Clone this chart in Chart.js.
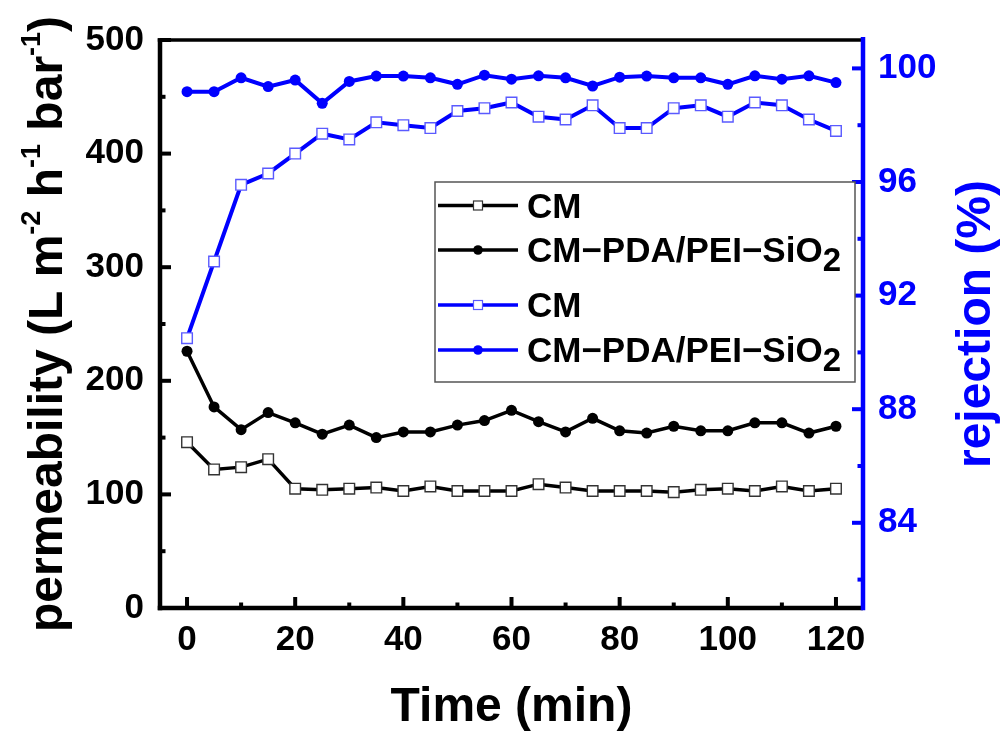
<!DOCTYPE html>
<html><head><meta charset="utf-8">
<script src="https://cdn.jsdelivr.net/npm/chart.js@4.4.1/dist/chart.umd.min.js"></script>
<style>html,body{margin:0;padding:0;background:#fff;}</style>
</head><body>
<canvas id="c" width="1008" height="732" style="width:1008px;height:732px;display:block"></canvas>
<script>
const timeMin = [0,5,10,15,20,25,30,35,40,45,50,55,60,65,70,75,80,85,90,95,100,105,110,115,120];
const permCM  = [146,122,124,131,105,104,105,106,103,107,103,103,103,109,106,103,103,103,102,104,105,103,107,103,105];
const permMod = [226,177,157,172,163,153,161,150,155,155,161,165,174,164,155,167,156,154,160,156,156,163,163,154,160];
const rejCM   = [90.5,93.2,95.9,96.3,97.0,97.7,97.5,98.1,98.0,97.9,98.5,98.6,98.8,98.3,98.2,98.7,97.9,97.9,98.6,98.7,98.3,98.8,98.7,98.2,97.8];
const rejMod  = [99.18,99.18,99.67,99.36,99.59,98.77,99.54,99.73,99.73,99.67,99.44,99.76,99.62,99.74,99.67,99.38,99.69,99.73,99.67,99.67,99.44,99.74,99.62,99.74,99.50];
const xTickValues = [0,20,40,60,80,100,120];
const xMinorTicks = [10,30,50,70,90,110];
const leftTickValues = [0,100,200,300,400,500];
const leftMinorTicks = [50,150,250,350,450];
const rightTickValues = [84,88,92,96,100];
const rightMinorTicks = [82,86,90,94,98];
const seriesLabels = ['CM','CM\u2212PDA/PEI\u2212SiO\u2082','CM','CM\u2212PDA/PEI\u2212SiO\u2082'];
const xTitle = 'Time (min)';
const leftTitleParts = [['permeability (L m',0],['-2',1],[' h',0],['-1',1],[' bar',0],['-1',1],[')',0]];
const rightTitle = 'rejection (%)';

const BLUE = '#0000ff';
const FONT = '"Liberation Sans", Arial, sans-serif';
const pts = arr => timeMin.map((t,i)=>({x:t,y:arr[i]}));

const decor = {
  id:'decor',
  afterDraw(chart){
    const ctx = chart.ctx;
    const {left,right,top,bottom} = chart.chartArea;
    const ax = chart.scales.x, yl = chart.scales.y, yr = chart.scales.y1;
    ctx.save();
    ctx.setLineDash([]);
    ctx.globalAlpha = 1;
    // frame (filled rectangles)
    const W = 4.5;
    ctx.fillStyle = '#000';
    ctx.fillRect(left-W/2, top-1.75, right-left+W/2, 3.5);        // top
    ctx.fillRect(left-W/2, bottom-W/2, right-left+W/2, W);        // bottom
    ctx.fillRect(left-W/2, top-1.75, W, bottom-top+1.75+W/2);     // left
    ctx.fillStyle = BLUE;
    ctx.fillRect(right-W/2, top-3, W, bottom-top+3+W/2);          // right (blue)
    // inward ticks (length measured from axis centre)
    const T = 4;
    ctx.fillStyle = '#000';
    xTickValues.forEach(v=>{const p=ax.getPixelForValue(v); ctx.fillRect(p-T/2, bottom-11, T, 11);});
    xMinorTicks.forEach(v=>{const p=ax.getPixelForValue(v); ctx.fillRect(p-T/2, bottom-5.5, T, 5.5);});
    leftTickValues.forEach(v=>{const p=yl.getPixelForValue(v); ctx.fillRect(left, p-T/2, 11, T);});
    leftMinorTicks.forEach(v=>{const p=yl.getPixelForValue(v); ctx.fillRect(left, p-T/2, 5.5, T);});
    ctx.fillStyle = BLUE;
    rightTickValues.forEach(v=>{const p=yr.getPixelForValue(v); ctx.fillRect(right-11, p-T/2, 11, T);});
    rightMinorTicks.forEach(v=>{const p=yr.getPixelForValue(v); ctx.fillRect(right-5.5, p-T/2, 5.5, T);});

    // left title with superscripts
    const cy = (top+bottom)/2;
    const mainF = 'bold 48px '+FONT, supF = 'bold 27px '+FONT;
    let total = 0;
    leftTitleParts.forEach(([t,s])=>{ctx.font = s?supF:mainF; total += ctx.measureText(t).width;});
    ctx.save();
    ctx.translate(62, cy); ctx.rotate(-Math.PI/2);
    ctx.fillStyle = '#000'; ctx.textBaseline = 'alphabetic'; ctx.textAlign = 'left';
    let x = -total/2;
    leftTitleParts.forEach(([t,s])=>{ctx.font = s?supF:mainF; ctx.fillText(t, x, s?-22:0); x += ctx.measureText(t).width;});
    ctx.restore();

    // right title
    ctx.save();
    ctx.translate(990, cy); ctx.rotate(-Math.PI/2);
    ctx.fillStyle = BLUE; ctx.font = mainF; ctx.textAlign = 'center'; ctx.textBaseline = 'alphabetic';
    ctx.fillText(rightTitle, 0, 0);
    ctx.restore();

    // legend
    const bx = 435, by = 182, bw = 420, bh = 200;
    ctx.fillStyle = '#fff'; ctx.fillRect(bx,by,bw,bh);
    ctx.strokeStyle = '#555'; ctx.lineWidth = 1.5; ctx.strokeRect(bx,by,bw,bh);
    const rows = [205.5, 250, 305, 350];
    chart.data.datasets.forEach((ds,i)=>{
      const y = rows[i];
      ctx.fillStyle = ds.borderColor;
      ctx.fillRect(438, y-1.75, 80, 3.5);
      const mx = 478;
      if (ds.pointStyle === 'rect') {
        ctx.fillStyle = '#fff'; ctx.fillRect(mx-4.5,y-4.5,9,9);
        ctx.strokeStyle = ds.pointBorderColor; ctx.lineWidth = 1.2; ctx.strokeRect(mx-4.5,y-4.5,9,9);
      } else {
        ctx.fillStyle = ds.pointBackgroundColor; ctx.beginPath(); ctx.arc(mx,y,4.8,0,Math.PI*2); ctx.fill();
      }
      ctx.fillStyle = '#000'; ctx.textAlign = 'left'; ctx.textBaseline = 'alphabetic';
      const lab = ds.label;
      const base = y + 12;
      if (lab.includes('\u2082')) {
        const main = lab.replace('\u2082','');
        ctx.font = 'bold 35px '+FONT; ctx.fillText(main, 527, base);
        const w = ctx.measureText(main).width;
        ctx.font = 'bold 33px '+FONT; ctx.fillText('2', 527+w, base+9);
      } else {
        ctx.font = 'bold 35px '+FONT; ctx.fillText(lab, 527, base);
      }
    });
    ctx.restore();
  }
};

const tickFont = {family: FONT, size: 35, weight: 'bold'};
new Chart(document.getElementById('c'), {
  type: 'line',
  data: {
    datasets: [
      {label: seriesLabels[0], data: pts(permCM), yAxisID:'y', borderColor:'#000', borderWidth:3.5,
       pointStyle:'rect', pointRadius:7.5, pointBackgroundColor:'#fff', pointBorderColor:'#333', pointBorderWidth:1.4, tension:0},
      {label: seriesLabels[1], data: pts(permMod), yAxisID:'y', borderColor:'#000', borderWidth:3.5,
       pointStyle:'circle', pointRadius:5.5, pointBackgroundColor:'#000', pointBorderColor:'#000', pointBorderWidth:0, tension:0},
      {label: seriesLabels[2], data: pts(rejCM), yAxisID:'y1', borderColor:BLUE, borderWidth:4,
       pointStyle:'rect', pointRadius:7.5, pointBackgroundColor:'#fff', pointBorderColor:'#5a5aff', pointBorderWidth:1.4, tension:0},
      {label: seriesLabels[3], data: pts(rejMod), yAxisID:'y1', borderColor:BLUE, borderWidth:4,
       pointStyle:'circle', pointRadius:5.5, pointBackgroundColor:BLUE, pointBorderColor:BLUE, pointBorderWidth:0, tension:0}
    ]
  },
  options: {
    responsive:false, animation:false, devicePixelRatio:1,
    layout:{padding:{top:40,left:0,right:0,bottom:0}},
    plugins:{legend:{display:false}, tooltip:{enabled:false}},
    scales:{
      x:{type:'linear', min:-5, max:125, position:'bottom',
         afterBuildTicks: s=>{s.ticks = xTickValues.map(v=>({value:v}));},
         afterFit: s=>{s.height = 124;},
         grid:{display:false, drawTicks:false},
         border:{display:false},
         ticks:{color:'#000', font:tickFont, padding:11, maxRotation:0, autoSkip:false},
         title:{display:true, text:xTitle, color:'#000', font:{family:FONT,size:48,weight:'bold',lineHeight:1}, padding:0}},
      y:{type:'linear', min:0, max:500, position:'left',
         afterBuildTicks: s=>{s.ticks = leftTickValues.map(v=>({value:v}));},
         afterFit: s=>{s.width = 160;},
         grid:{display:false, drawTicks:false},
         border:{display:false},
         ticks:{color:'#000', font:tickFont, padding:16, autoSkip:false}},
      y1:{type:'linear', min:81, max:101, position:'right',
         afterBuildTicks: s=>{s.ticks = rightTickValues.map(v=>({value:v}));},
         afterFit: s=>{s.width = 145;},
         grid:{display:false, drawTicks:false},
         border:{display:false},
         ticks:{color:BLUE, font:tickFont, padding:15, autoSkip:false}}
    }
  },
  plugins:[decor]
});
</script>
</body></html>
